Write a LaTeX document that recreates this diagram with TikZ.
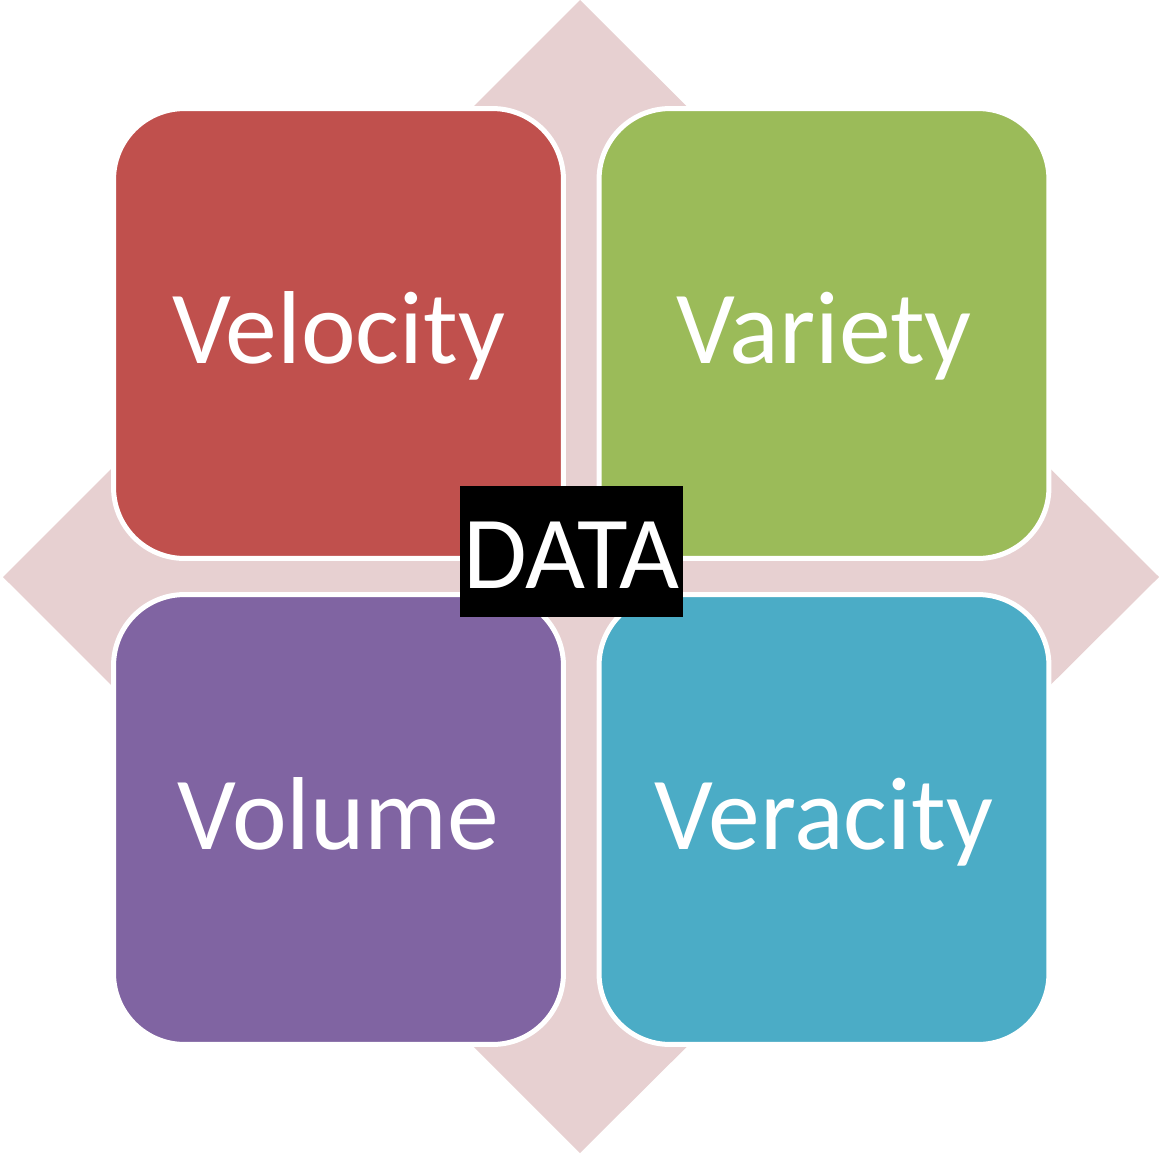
\documentclass[tikz,border=0pt]{standalone}
\usepackage{fontspec}
\setmainfont{Carlito}
\definecolor{velred}{RGB}{192,80,77}
\definecolor{vargreen}{RGB}{155,187,89}
\definecolor{volpurple}{RGB}{128,100,162}
\definecolor{verblue}{RGB}{75,172,198}
\definecolor{backpink}{RGB}{231,208,209}
\tikzset{
  vbox/.style={draw=white, line width=0.1cm, rounded corners=1.42cm,
    minimum width=9cm, minimum height=9cm, inner sep=0pt,
    text height=1.5cm, text depth=0.32cm,
    text=white, font=\fontsize{59}{62}\selectfont},
  databox/.style={fill=black, minimum width=4.46cm, minimum height=2.62cm,
    inner sep=0pt, text height=1.6cm, text depth=0.14cm,
    text=white, font=\fontsize{59}{62}\selectfont}
}
\begin{document}
\begin{tikzpicture}[x=0.02cm,y=-0.02cm]
        \useasboundingbox (0,0) rectangle (1159,1153);
        %% pink diamond behind the four boxes
        \fill[backpink] (580,0) -- (1159,577) -- (580,1153) -- (3,577) -- cycle;
        %%
        \node[vbox, fill=velred] (velocity) at (338.5,333.5) {Velocity};
        \node[vbox, fill=vargreen] (variety) at (824,333.5) {Variety};
        \node[vbox, fill=volpurple] (volume) at (338.5,819.5) {Volume};
        \node[vbox, fill=verblue] (veracity) at (824,819.5) {Veracity};
        %%
        \node[databox] (data) at (571.5,551.5) {DATA};
      \end{tikzpicture}
\end{document}
